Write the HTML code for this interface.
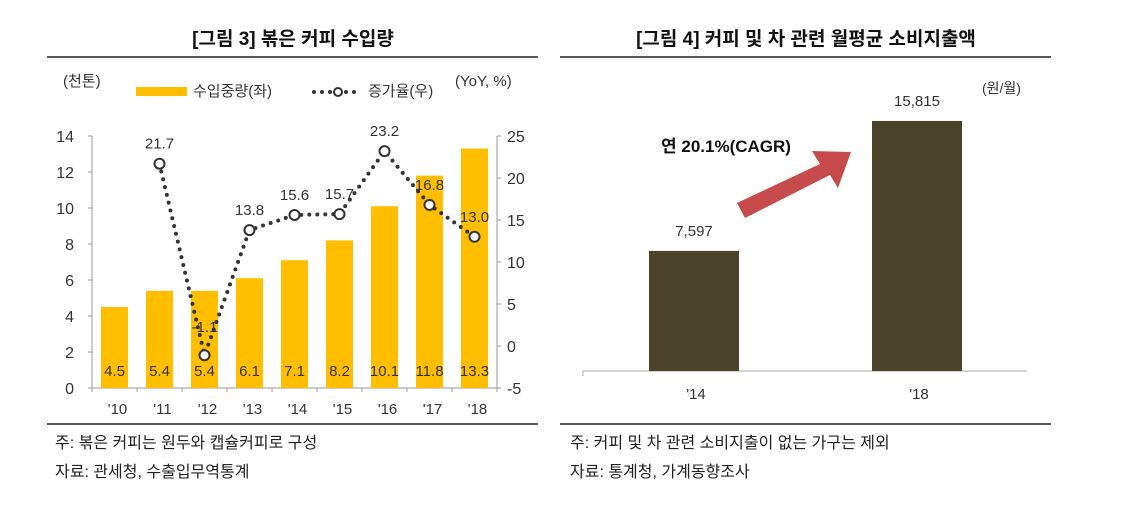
<!DOCTYPE html>
<html><head><meta charset="utf-8">
<style>
body{margin:0;background:#fff;font-family:"Liberation Sans","Noto Sans CJK KR",sans-serif;}
svg text{font-family:"Liberation Sans","Noto Sans CJK KR",sans-serif;}
</style></head>
<body>
<svg width="1124" height="500" viewBox="0 0 1124 500">
<text x="293" y="45" text-anchor="middle" font-size="19" font-weight="bold" fill="#111">[그림 3] 볶은 커피 수입량</text>
<text x="806" y="45" text-anchor="middle" font-size="19" font-weight="bold" fill="#111">[그림 4] 커피 및 차 관련 월평균 소비지출액</text>
<line x1="47" y1="57" x2="538" y2="57" stroke="#222" stroke-width="1.5"/>
<line x1="560" y1="57" x2="1051" y2="57" stroke="#222" stroke-width="1.5"/>
<line x1="47" y1="424" x2="538" y2="424" stroke="#222" stroke-width="1.5"/>
<line x1="560" y1="424" x2="1051" y2="424" stroke="#222" stroke-width="1.5"/>
<text x="55" y="448" font-size="16" fill="#222">주: 볶은 커피는 원두와 캡슐커피로 구성</text>
<text x="55" y="477" font-size="16" fill="#222">자료: 관세청, 수출입무역통계</text>
<text x="570" y="448" font-size="16" fill="#222">주: 커피 및 차 관련 소비지출이 없는 가구는 제외</text>
<text x="570" y="477" font-size="16" fill="#222">자료: 통계청, 가계동향조사</text>

<g id="left"></g>
<g id="right"></g>
</svg>
<script>
const years = ["'10","'11","'12","'13","'14","'15","'16","'17","'18"];
const volume = [4.5,5.4,5.4,6.1,7.1,8.2,10.1,11.8,13.3];
const yoy = [null,21.7,-1.1,13.8,15.6,15.7,23.2,16.8,13.0];
const leftTicks = [0,2,4,6,8,10,12,14];
const rightTicks = [-5,0,5,10,15,20,25];
const spendCats = ["'14","'18"];
const spendVals = [7597,15815];
const spendLabels = ["7,597","15,815"];

const NS="http://www.w3.org/2000/svg";
function mk(parent,tag,attrs,txt){const e=document.createElementNS(NS,tag);for(const k in attrs)e.setAttribute(k,attrs[k]);if(txt!==undefined)e.textContent=txt;parent.appendChild(e);return e;}

const L=document.getElementById('left');
const x0=92,x1=497,yb=388,yt=136;
const yL=v=>yb-(v/14)*(yb-yt);
const yR=v=>yb-((v+5)/30)*(yb-yt);
const band=(x1-x0)/years.length;
const xc=i=>x0+band*(i+0.5);
let e;
e=mk(L,'line',{x1:x0,y1:yt,x2:x0,y2:yb,stroke:'#999'});

e=mk(L,'line',{x1:x1,y1:yt,x2:x1,y2:yb,stroke:'#999'});

e=mk(L,'line',{x1:x0,y1:yb,x2:x1,y2:yb,stroke:'#999'});

leftTicks.forEach(t=>{
  mk(L,'line',{x1:x0-4,y1:yL(t),x2:x0,y2:yL(t),stroke:'#999'});
  e=mk(L,'text',{x:x0-18,y:yL(t)+6,'text-anchor':'end','font-size':16,fill:'#333'},t);
  
});
rightTicks.forEach(t=>{
  mk(L,'line',{x1:x1,y1:yR(t),x2:x1+4,y2:yR(t),stroke:'#999'});
  e=mk(L,'text',{x:x1+10,y:yR(t)+6,'font-size':16,fill:'#333'},t);
  
});
for(let i=0;i<=years.length;i++){mk(L,'line',{x1:x0+band*i,y1:yb,x2:x0+band*i,y2:yb+4,stroke:'#999'});}
years.forEach((y,i)=>{
  e=mk(L,'rect',{x:xc(i)-13.5,y:yL(volume[i]),width:27,height:yb-yL(volume[i]),fill:'#FFBF00'});
  
  e=mk(L,'text',{x:xc(i),y:yb-12,'text-anchor':'middle','font-size':15,fill:'#333'},volume[i].toFixed(1));
  
  e=mk(L,'text',{x:xc(i)+3,y:yb+26,'text-anchor':'middle','font-size':15,fill:'#333'},y);
  
});
let pts=[];yoy.forEach((v,i)=>{if(v!==null)pts.push([xc(i),yR(v)]);});
e=mk(L,'polyline',{points:pts.map(p=>p.join(',')).join(' '),fill:'none',stroke:'#333','stroke-width':4,'stroke-dasharray':'0 8','stroke-linecap':'round'});

yoy.forEach((v,i)=>{if(v===null)return;
  e=mk(L,'circle',{cx:xc(i),cy:yR(v),r:5,fill:'#fff',stroke:'#333','stroke-width':2});
  
  e=mk(L,'text',{x:xc(i),y:yR(v)-(i===2?23:15),'text-anchor':'middle','font-size':15,fill:'#333'},v.toFixed(1));
  
});
e=mk(L,'text',{x:63,y:86,'font-size':15,fill:'#333'},'(천톤)');
e=mk(L,'text',{x:455,y:86,'font-size':15,fill:'#333'},'(YoY, %)');
e=mk(L,'rect',{x:136,y:87,width:51,height:9,fill:'#FFBF00'});
e=mk(L,'text',{x:193,y:96,'font-size':15,fill:'#333'},'수입중량(좌)');
e=mk(L,'line',{x1:314,y1:92,x2:362,y2:92,stroke:'#333','stroke-width':4,'stroke-dasharray':'0 8','stroke-linecap':'round'});
e=mk(L,'circle',{cx:338,cy:92,r:4,fill:'#fff',stroke:'#333','stroke-width':2});
e=mk(L,'text',{x:368,y:96,'font-size':15,fill:'#333'},'증가율(우)');

const R=document.getElementById('right');
const rb=371,rmax=16000,rh=253;
const yS=v=>rb-(v/rmax)*rh;
const rxc=[694,917];
e=mk(R,'line',{x1:583,y1:rb,x2:1027,y2:rb,stroke:'#aaa'});
mk(R,'line',{x1:583,y1:rb,x2:583,y2:rb+5,stroke:'#aaa'});
spendCats.forEach((c,i)=>{
  e=mk(R,'rect',{x:rxc[i]-45,y:yS(spendVals[i]),width:90,height:rb-yS(spendVals[i]),fill:'#4A4229'});
  
  e=mk(R,'text',{x:rxc[i],y:yS(spendVals[i])-15,'text-anchor':'middle','font-size':15,fill:'#333'},spendLabels[i]);
  
  e=mk(R,'text',{x:rxc[i]+2,y:rb+28,'text-anchor':'middle','font-size':15,fill:'#333'},c);
  
});
e=mk(R,'text',{x:982,y:93,'font-size':14,fill:'#333'},'(원/월)');
e=mk(R,'polygon',{points:'737,203 745,218 830,175 838,188 851,152 812,151 820,164',fill:'#C84B4B'});
e=mk(R,'text',{x:661,y:152,'font-size':17,'font-weight':'bold',fill:'#111'},'연 20.1%(CAGR)');
</script>
</body></html>
